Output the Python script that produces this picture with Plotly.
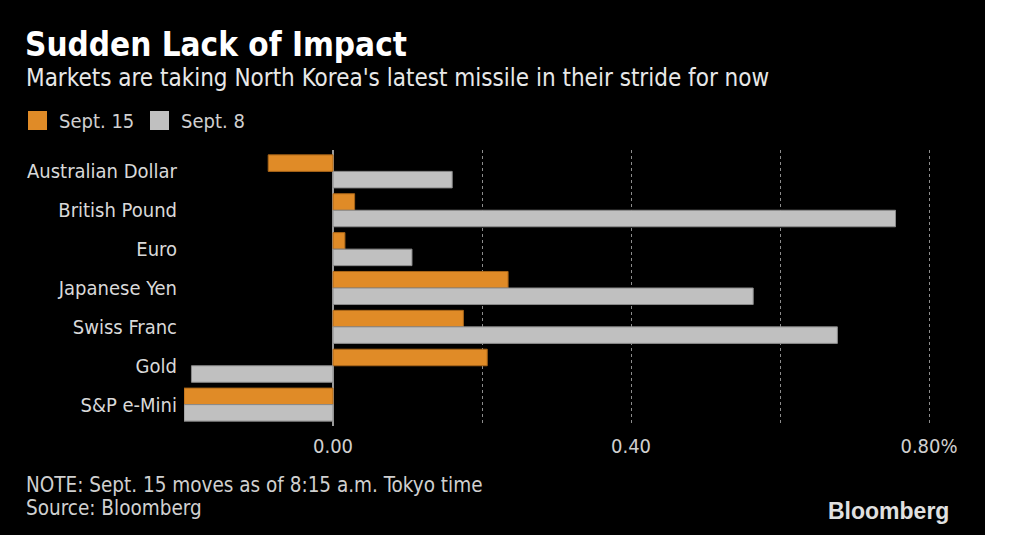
import plotly.graph_objects as go

# Data (percent moves)
assets = ["Australian Dollar", "British Pound", "Euro", "Japanese Yen",
          "Swiss Franc", "Gold", "S&P e-Mini"]
sept15 = [-0.087, 0.029, 0.016, 0.235, 0.175, 0.207, -0.2]
sept8 = [0.160, 0.755, 0.106, 0.564, 0.677, -0.190, -0.2]

tick_vals = [0, 0.2, 0.4, 0.6, 0.8]
tick_text = ["0.00", "", "0.40", "", "0.80%"]

FONT = "DejaVu Sans Condensed, DejaVu Sans, sans-serif"
ORANGE = "#e08b27"
GRAY = "#c0c0c0"

# plot area in pixels: left 184, right 944, top 150, bottom 426
L, R, T, B = 184, 944, 150, 426


def px(x):
    return (x - L) / (R - L)


def py(y):
    return (B - y) / (B - T)


fig = go.Figure()
fig.add_trace(go.Bar(
    y=assets, x=sept15, name="Sept. 15", orientation="h",
    marker=dict(color=ORANGE, line=dict(color="#a86518", width=1)),
))
fig.add_trace(go.Bar(
    y=assets, x=sept8, name="Sept. 8", orientation="h",
    marker=dict(color=GRAY, line=dict(color="#8a8a8a", width=1)),
))

# white strip on the right edge of the image
fig.add_shape(type="rect", xref="paper", yref="paper",
              x0=px(985), x1=px(1030), y0=py(540), y1=py(-5),
              fillcolor="white", line_width=0, layer="below")

# legend drawn by hand (large square swatches)
legend_items = [("Sept. 15", ORANGE, 28), ("Sept. 8", GRAY, 150)]
for label, color, x0 in legend_items:
    fig.add_shape(type="rect", xref="paper", yref="paper",
                  x0=px(x0), x1=px(x0 + 19), y0=py(130), y1=py(111),
                  fillcolor=color, line_width=0)
    fig.add_annotation(text=label, xref="paper", yref="paper",
                       x=px(x0 + 29), y=py(121), xanchor="left", yanchor="middle",
                       showarrow=False,
                       font=dict(family=FONT, size=20, color="#d0d0d0"))

fig.update_layout(
    width=1024, height=535,
    margin=dict(l=L, r=1024 - R, t=T, b=535 - B),
    paper_bgcolor="black", plot_bgcolor="black",
    font=dict(family=FONT, color="#d9d9d9", size=20),
    barmode="group", bargap=0.15, bargroupgap=0,
    showlegend=False,
    title=dict(
        text="<b>Sudden Lack of Impact</b>",
        font=dict(family=FONT, size=33, color="white"),
        xref="container", x=25 / 1024, xanchor="left",
        yref="container", y=1 - 44 / 535, yanchor="middle",
    ),
    xaxis=dict(
        range=[-0.2, 0.8201], tickvals=tick_vals, ticktext=tick_text,
        showgrid=True, gridcolor="#8c8c8c", griddash="dot", gridwidth=1,
        zeroline=True, zerolinecolor="#9a9a9a", zerolinewidth=2,
        showline=False, ticks="", ticklabelstandoff=6,
        tickfont=dict(size=20, color="#d0d0d0"),
    ),
    yaxis=dict(
        type="category", range=[6.55, -0.55],
        showgrid=False, zeroline=False, showline=False, ticks="",
        ticklabelstandoff=6,
        tickfont=dict(size=20, color="#d9d9d9"),
    ),
)

fig.add_annotation(
    text="Markets are taking North Korea's latest missile in their stride for now",
    xref="paper", yref="paper", x=px(24), y=py(78),
    xanchor="left", yanchor="middle", showarrow=False,
    font=dict(family=FONT, size=24, color="#e8e8e8"),
)
fig.add_annotation(
    text="NOTE: Sept. 15 moves as of 8:15 a.m. Tokyo time",
    xref="paper", yref="paper", x=px(24), y=py(485),
    xanchor="left", yanchor="middle", showarrow=False,
    font=dict(family=FONT, size=20.5, color="#d0d0d0"),
)
fig.add_annotation(
    text="Source: Bloomberg",
    xref="paper", yref="paper", x=px(24), y=py(508),
    xanchor="left", yanchor="middle", showarrow=False,
    font=dict(family=FONT, size=20.5, color="#d0d0d0"),
)
fig.add_annotation(
    text="<b>Bloomberg</b>",
    xref="paper", yref="paper", x=px(951), y=py(511),
    xanchor="right", yanchor="middle", showarrow=False,
    font=dict(family="Liberation Sans Narrow, Liberation Sans, sans-serif",
              size=23, color="#e0e0e0"),
)

fig.write_html("out.html", config={"displayModeBar": False},
               post_script="document.body.style.margin='0';")
